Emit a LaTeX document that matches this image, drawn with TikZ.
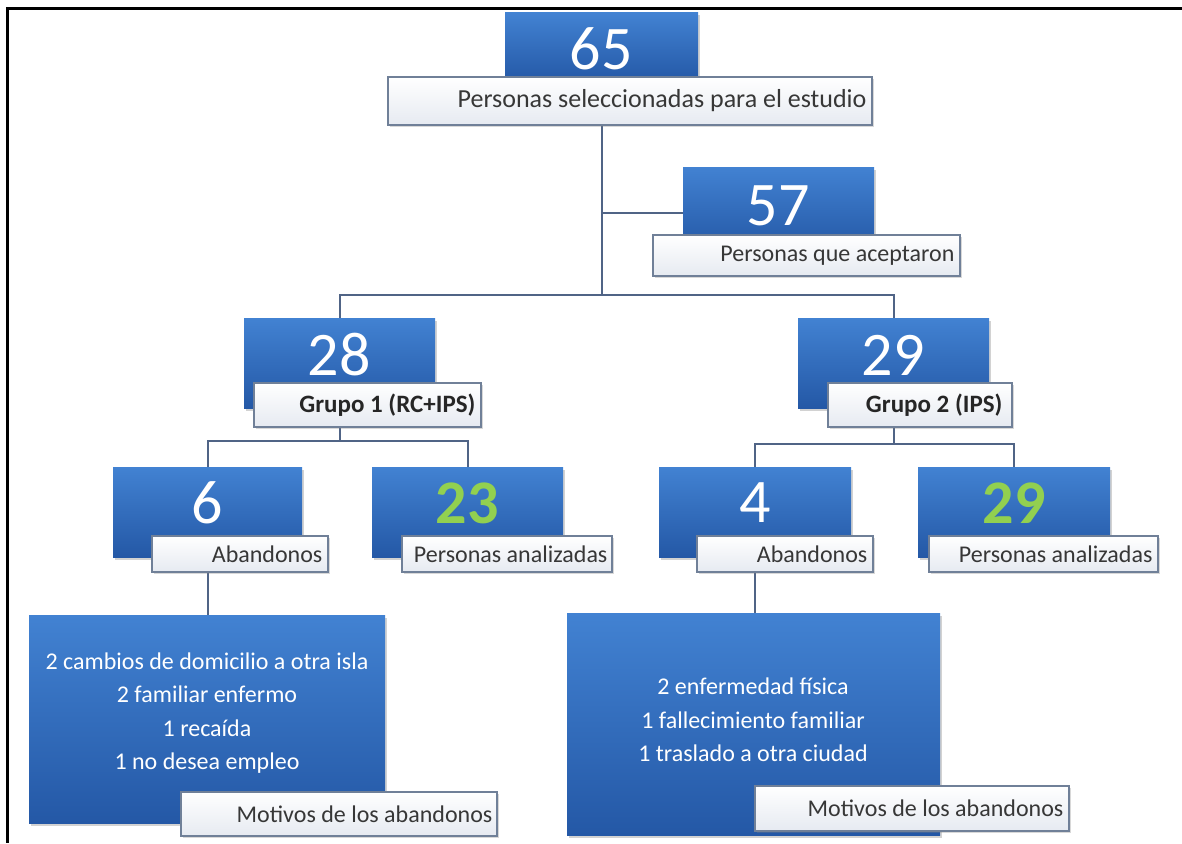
\documentclass[tikz,border=0pt]{standalone}
\usepackage{fontspec}
\setmainfont{Carlito}
\usetikzlibrary{fit,shadows}
\definecolor{bluetop}{RGB}{66,130,210}
\definecolor{bluebot}{RGB}{36,88,166}
\definecolor{labborder}{RGB}{112,128,152}
\definecolor{labbot}{RGB}{230,234,241}
\definecolor{conncol}{RGB}{80,100,134}
\definecolor{txtgray}{RGB}{55,55,55}
\definecolor{numgreen}{RGB}{146,208,80}
\pgfdeclarelayer{bottomlayer}
\pgfdeclarelayer{background}
\pgfsetlayers{bottomlayer,background,main}
\begin{document}
\begin{tikzpicture}[x=1pt,y=-1pt,
  bluebox/.style={rectangle, inner sep=0pt, draw=none, top color=bluetop, bottom color=bluebot,
    drop shadow={shadow xshift=2pt, shadow yshift=-2.5pt, opacity=0.35}},
  labbox/.style={rectangle, inner sep=0pt, draw=labborder, line width=1.2pt, top color=white, bottom color=labbot,
    drop shadow={shadow xshift=1.5pt, shadow yshift=-2pt, opacity=0.3}},
  num/.style={text=white, inner sep=0pt, font=\fontsize{62}{62}\selectfont},
  gnum/.style={text=numgreen, inner sep=0pt, font=\bfseries\fontsize{62}{62}\selectfont},
  labtxt/.style={text=txtgray, inner sep=0pt, anchor=east, font=\fontsize{24}{28}\selectfont},
  bigtxt/.style={labtxt, font=\fontsize{26}{30}\selectfont},
  grptxt/.style={labtxt, text=black!85, font=\bfseries\fontsize{25}{29}\selectfont},
  mtxt/.style={text=white, inner sep=0pt, align=center, font=\fontsize{24}{33.5}\selectfont},
  conn/.style={draw=conncol, line width=2pt},
  frame/.style={draw=black, line width=3pt}
]
\useasboundingbox (0,0) rectangle (1182,843);
\begin{pgfonlayer}{bottomlayer}
\fill[white] (0,0) rectangle (1182,843);
\end{pgfonlayer}
\draw[frame] (1182,9) -- (7,9) -- (7,843);

% level 0
\node[bluebox, fit={(505,13) (698,82)}] (b65) {};
\node[labbox, fit={(388,77) (872,125)}] (l65) {};
\node[num] (n65) at (601,49) {65};
\node[bigtxt] (t65) at ([xshift=-6pt]l65.east) {Personas seleccionadas para el estudio};

% 57
\node[bluebox, fit={(683,167) (874,250)}] (b57) {};
\node[labbox, fit={(653,235) (960,276)}] (l57) {};
\node[num] (n57) at (778,206) {57};
\node[labtxt] (t57) at ([xshift=-6pt]l57.east) {Personas que aceptaron};

% groups
\node[bluebox, fit={(244,318) (435,408)}] (b28) {};
\node[labbox, fit={(254,383) (481,427)}] (l28) {};
\node[num] (n28) at (339,355) {28};
\node[grptxt] (t28) at ([xshift=-6pt]l28.east) {Grupo 1 (RC+IPS)};

\node[bluebox, fit={(798,318) (989,408)}] (b29) {};
\node[labbox, fit={(828,383) (1012,427)}] (l29) {};
\node[num] (n29) at (893,355) {29};
\node[grptxt] (t29) at ([xshift=-10pt]l29.east) {Grupo 2 (IPS)};

% level 3
\node[bluebox, fit={(113,467) (302,557)}] (b6) {};
\node[labbox, fit={(152,536) (328,572)}] (l6) {};
\node[num] (n6) at (207,503) {6};
\node[labtxt] (t6) at ([xshift=-6pt]l6.east) {Abandonos};

\node[bluebox, fit={(372,467) (563,557)}] (b23) {};
\node[labbox, fit={(402,536) (612,572)}] (l23) {};
\node[gnum] (n23) at (467,503) {23};
\node[labtxt] (t23) at ([xshift=-5pt]l23.east) {Personas analizadas};

\node[bluebox, fit={(659,467) (851,557)}] (b4) {};
\node[labbox, fit={(697,536) (873,572)}] (l4) {};
\node[num] (n4) at (755,503) {4};
\node[labtxt] (t4) at ([xshift=-6pt]l4.east) {Abandonos};

\node[bluebox, fit={(918,467) (1110,557)}] (b29b) {};
\node[labbox, fit={(929,536) (1158,572)}] (l29b) {};
\node[gnum] (n29b) at (1014,503) {29};
\node[labtxt] (t29b) at ([xshift=-6pt]l29b.east) {Personas analizadas};

% motivos
\node[bluebox, fit={(29,615) (385,823)}] (m1) {};
\node[labbox, fit={(181,792) (497,836)}] (lm1) {};
\node[mtxt] (tm1) at (207,713) {2 cambios de domicilio a otra isla\\2 familiar enfermo\\1 recaída\\1 no desea empleo};
\node[labtxt] (tlm1) at ([xshift=-5pt]lm1.east) {Motivos de los abandonos};

\node[bluebox, fit={(567,613) (940,835)}] (m2) {};
\node[labbox, fit={(755,786) (1069,831)}] (lm2) {};
\node[mtxt] (tm2) at (753,720) {2 enfermedad física\\1 fallecimiento familiar\\1 traslado a otra ciudad};
\node[labtxt] (tlm2) at ([xshift=-6pt]lm2.east) {Motivos de los abandonos};

% junctions
\coordinate (jA) at (601.5,295);
\coordinate (jD) at (601.5,213);
\coordinate (jB) at (339.5,441);
\coordinate (jC) at (893.5,444);

\begin{pgfonlayer}{background}
\draw[conn] (b65.south) -- (jA);
\draw[conn] (jD) -- (jD -| b57.west);
\draw[conn] (b28.north) |- (jA) -| (b29.north);
\draw[conn] (b28.south) -- (jB);
\draw[conn] (b6.north) |- (jB) -| (b23.north);
\draw[conn] (b29.south) -- (jC);
\draw[conn] (b4.north) |- (jC) -| (b29b.north);
\draw[conn] (b6.south) -- (b6.south |- m1.north);
\draw[conn] (b4.south) -- (b4.south |- m2.north);
\end{pgfonlayer}
\end{tikzpicture}
\end{document}
